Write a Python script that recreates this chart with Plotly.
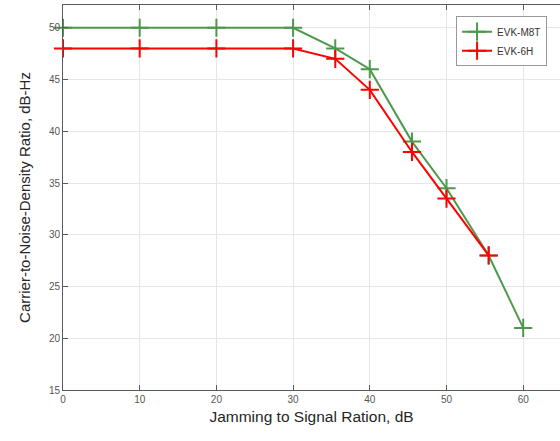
import plotly.graph_objects as go

x_m8t = [0, 10, 20, 30, 35.5, 40, 45.5, 50, 55.5, 60]
y_m8t = [50, 50, 50, 50, 48, 46, 39, 34.5, 28, 21]
x_6h = [0, 10, 20, 30, 35.5, 40, 45.5, 50, 55.5]
y_6h = [48, 48, 48, 48, 47, 44, 38, 33.5, 28]
names = ["EVK-M8T", "EVK-6H"]
colors = ["rgb(76,153,76)", "rgb(255,0,0)"]

fig = go.Figure()
for xs, ys, n, c in [(x_m8t, y_m8t, names[0], colors[0]), (x_6h, y_6h, names[1], colors[1])]:
    fig.add_trace(go.Scatter(
        x=xs, y=ys, name=n, mode="lines+markers",
        line=dict(color=c, width=2),
        marker=dict(symbol="cross-thin", size=13, line=dict(color=c, width=2)),
        cliponaxis=False,
    ))

font = "Liberation Sans, Arial, sans-serif"
fig.update_layout(
    width=560, height=441,
    margin=dict(l=63, r=0, t=5, b=51),
    paper_bgcolor="white", plot_bgcolor="white",
    font=dict(family=font, color="#404040"),
    showlegend=True,
    legend=dict(
        x=0.974, y=0.971, xanchor="right", yanchor="top",
        bgcolor="white", bordercolor="#999999", borderwidth=1,
        font=dict(size=10, color="#333333"),
        tracegroupgap=0, itemwidth=30,
    ),
    xaxis=dict(
        range=[0, 64.8], tick0=0, dtick=10,
        showgrid=True, gridcolor="#e6e6e6", gridwidth=1,
        showline=True, linecolor="#5a5a5a", linewidth=1, mirror="ticks",
        ticks="inside", ticklen=5, tickcolor="#5a5a5a",
        tickfont=dict(size=10, color="#555555"),
        zeroline=False,
        title=dict(text="Jamming to Signal Ration, dB", font=dict(size=15.5, color="#262626"), standoff=7),
    ),
    yaxis=dict(
        range=[15, 52.2], tick0=15, dtick=5,
        showgrid=True, gridcolor="#e6e6e6", gridwidth=1,
        showline=True, linecolor="#5a5a5a", linewidth=1,
        ticks="inside", ticklen=5, tickcolor="#5a5a5a",
        tickfont=dict(size=10, color="#555555"),
        zeroline=False,
        title=dict(text="Carrier-to-Noise-Density Ratio, dB-Hz", font=dict(size=15, color="#262626"), standoff=14),
    ),
)

fig.write_html("out.html")
